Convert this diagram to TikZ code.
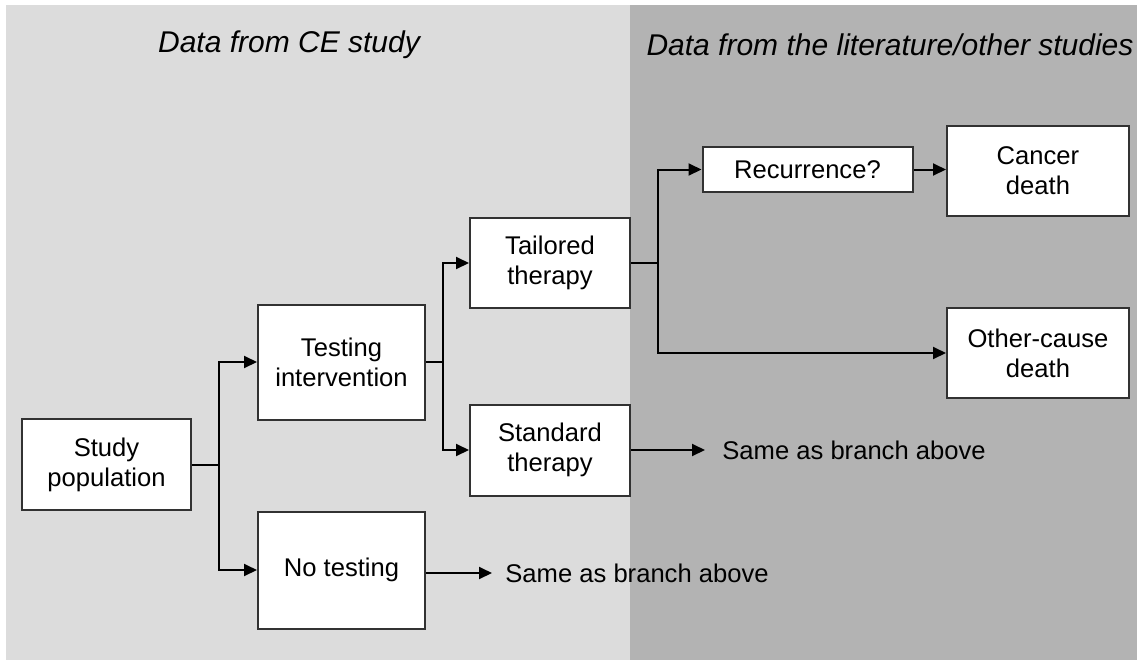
\documentclass[tikz,border=0pt]{standalone}
\usepackage{fontspec}
\setmainfont{Liberation Sans}
\usetikzlibrary{arrows.meta}

\definecolor{leftbg}{RGB}{220,220,220}
\definecolor{rightbg}{RGB}{179,179,179}
\definecolor{edge}{RGB}{50,50,50}

\tikzset{
  box/.style={draw=edge, line width=1pt, fill=white, align=center, inner sep=0pt,
    font=\fontsize{12.8}{15}\selectfont},
  note/.style={anchor=west, inner xsep=8.5pt, inner ysep=0pt, font=\fontsize{12.8}{15}\selectfont},
  heading/.style={font=\fontsize{15}{18}\selectfont\itshape},
  link/.style={draw=black, line width=1pt, -{Triangle[length=6.5pt,width=6pt]}}
}

\begin{document}
\begin{tikzpicture}[x=0.5pt,y=0.5pt,yscale=-1,xscale=1]
\useasboundingbox (0,0) rectangle (1137,660);

%Shading: the two data sources
\fill[leftbg] (6,5) rectangle (630,660);
\fill[rightbg] (630,5) rectangle (1137,660);

%Headings
\node[heading] (hleft) at (289,45) {Data from CE study};
\node[heading] (hright) at (890,45) {Data from the literature/other studies};

%Boxes
\node[box, minimum width=84.5pt, minimum height=45.5pt] (pop) at (106.5,464.5) {Study\\population};
\node[box, minimum width=83.5pt, minimum height=57.5pt] (test) at (341.5,362) {Testing\\intervention};
\node[box, minimum width=83.5pt, minimum height=58.5pt] (notest) at (341.5,570) {No testing};
\node[box, minimum width=80pt, minimum height=45pt] (tail) at (550,263) {Tailored\\therapy};
\node[box, minimum width=80pt, minimum height=45.5pt] (std) at (550,450) {Standard\\therapy};
\node[box, minimum width=105pt, minimum height=22.5pt] (recur) at (807.5,169.5) {Recurrence?};
\node[box, minimum width=91pt, minimum height=45pt] (cancer) at (1038,171) {Cancer\\death};
\node[box, minimum width=91pt, minimum height=45pt] (other) at (1038,353) {Other-cause\\death};

%Free text
\node[note] (same1) at (705,450) {Same as branch above};
\node[note, inner xsep=6.5pt] (same2) at (492,573) {Same as branch above};

%Connectors
\draw[link] (pop.east) -- ++(27,0) coordinate (j1) |- (test.west);
\draw[link] (j1) |- (notest.west);
\draw[link] (test.east) -- ++(17,0) coordinate (j2) |- (tail.west);
\draw[link] (j2) |- (std.west);
\draw[link] (tail.east) -- ++(27,0) coordinate (j3) |- (recur.west);
\draw[link] (j3) |- (other.west);
\draw[link] (recur.east) -- (recur.east -| cancer.west);
\draw[link] (std.east) -- (same1.west);
\draw[link] (notest.east |- same2.west) -- (same2.west);

\end{tikzpicture}
\end{document}
